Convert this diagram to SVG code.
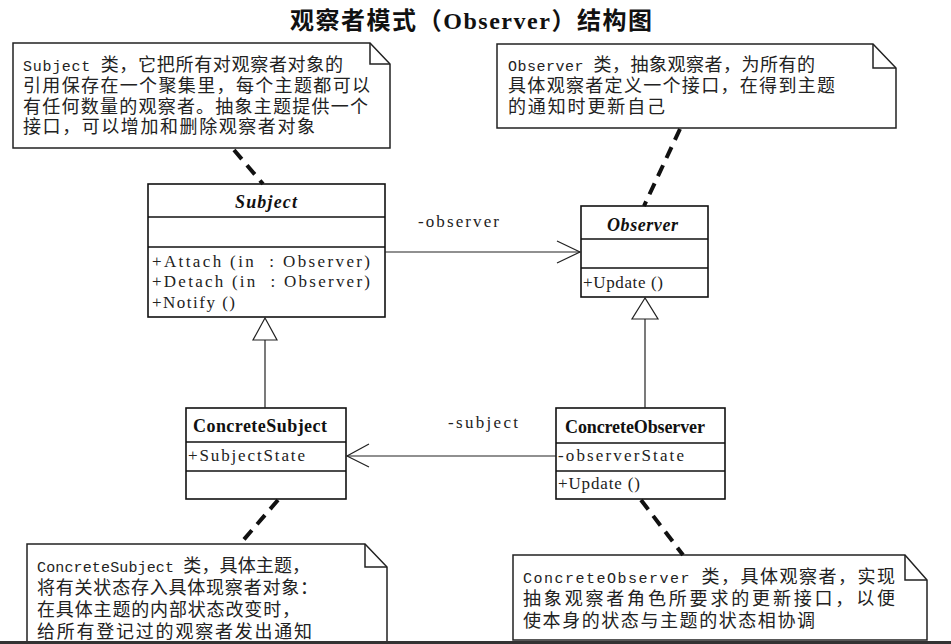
<svg xmlns="http://www.w3.org/2000/svg" width="951" height="644" viewBox="0 0 951 644">
<defs>
<style>
.box{fill:#fff;stroke:#111;stroke-width:1.6}
.note{fill:#fff;stroke:#222;stroke-width:1.5}
.fold{fill:none;stroke:#222;stroke-width:1.5}
.ln{fill:none;stroke:#222;stroke-width:1.2}
.dash{fill:none;stroke:#111;stroke-width:4;stroke-dasharray:12 8}
.nt{font-family:"Liberation Mono","Noto Sans CJK SC",monospace;font-size:18px;fill:#222}
.lat{font-size:15px}
.cn{font-family:"Liberation Serif","Noto Sans CJK SC",serif;font-size:18px;font-weight:bold;fill:#111}
.it{font-style:italic}
.mb{font-family:"Liberation Serif","Noto Sans CJK SC",serif;font-size:17px;fill:#222}
.title{font-family:"Liberation Serif","Noto Sans CJK SC",sans-serif;font-size:24px;font-weight:bold;fill:#111}
</style>
</defs>
<rect x="0" y="0" width="951" height="644" fill="#fff"/>

<text class="title" x="290" y="29" textLength="362">观察者模式（Observer）结构图</text>

<g id="note-subject">
<path class="note" d="M13,43 H370 L390,64 V148 H13 Z"/>
<path class="fold" d="M370,43 V64 H390"/>
<text class="nt" x="23" y="71" textLength="320" xml:space="preserve"><tspan class="lat">Subject </tspan>类，它把所有对观察者对象的</text>
<text class="nt" x="23" y="92" textLength="347">引用保存在一个聚集里，每个主题都可以</text>
<text class="nt" x="23" y="113" textLength="345">有任何数量的观察者。抽象主题提供一个</text>
<text class="nt" x="23" y="133" textLength="292">接口，可以增加和删除观察者对象</text>
</g>

<g id="note-observer">
<path class="note" d="M497,44 H873 L896,68 V128 H497 Z"/>
<path class="fold" d="M873,44 V68 H896"/>
<text class="nt" x="508" y="71" textLength="307" xml:space="preserve"><tspan class="lat">Observer </tspan>类，抽象观察者，为所有的</text>
<text class="nt" x="508" y="92" textLength="327">具体观察者定义一个接口，在得到主题</text>
<text class="nt" x="508" y="113" textLength="157">的通知时更新自己</text>
</g>

<g id="note-concretesubject">
<path class="note" d="M27,544 H365 L387,567 V648 H27 Z"/>
<path class="fold" d="M365,544 V567 H387"/>
<text class="nt" x="37" y="572" textLength="273" xml:space="preserve"><tspan class="lat">ConcreteSubject </tspan>类，具体主题，</text>
<text class="nt" x="37" y="594" textLength="281">将有关状态存入具体现察者对象：</text>
<text class="nt" x="37" y="616" textLength="263">在具体主题的内部状态改变时，</text>
<text class="nt" x="37" y="638" textLength="275">给所有登记过的观察者发出通知</text>
</g>

<g id="note-concreteobserver">
<path class="note" d="M513,555 H905 L927,580 V640 H513 Z"/>
<path class="fold" d="M905,555 V580 H927"/>
<text class="nt" x="523" y="583" textLength="372" xml:space="preserve"><tspan class="lat">ConcreteObserver </tspan>类，具体观察者，实现</text>
<text class="nt" x="523" y="605" textLength="372">抽象观察者角色所要求的更新接口，以便</text>
<text class="nt" x="523" y="627" textLength="292">使本身的状态与主题的状态相协调</text>
</g>

<g id="class-subject">
<rect class="box" x="148" y="184" width="237" height="133"/>
<line class="box" x1="148" y1="217" x2="385" y2="217"/>
<line class="box" x1="148" y1="247" x2="385" y2="247"/>
<text class="cn it" x="235" y="208" textLength="62">Subject</text>
<text class="mb" x="152" y="267" textLength="218" xml:space="preserve">+Attach (in  : Observer)</text>
<text class="mb" x="152" y="287" textLength="218" xml:space="preserve">+Detach (in  : Observer)</text>
<text class="mb" x="152" y="308" textLength="83">+Notify ()</text>
</g>

<g id="class-observer">
<rect class="box" x="581" y="206" width="127" height="91"/>
<line class="box" x1="581" y1="239" x2="708" y2="239"/>
<line class="box" x1="581" y1="268" x2="708" y2="268"/>
<text class="cn it" x="607" y="231" textLength="71">Observer</text>
<text class="mb" x="583" y="288" textLength="80">+Update ()</text>
</g>

<g id="class-concretesubject">
<rect class="box" x="186" y="408" width="160" height="91"/>
<line class="box" x1="186" y1="442" x2="346" y2="442"/>
<line class="box" x1="186" y1="471" x2="346" y2="471"/>
<text class="cn" x="193" y="432" textLength="134">ConcreteSubject</text>
<text class="mb" x="188" y="461" textLength="117">+SubjectState</text>
</g>

<g id="class-concreteobserver">
<rect class="box" x="556" y="408" width="169" height="91"/>
<line class="box" x1="556" y1="443" x2="725" y2="443"/>
<line class="box" x1="556" y1="471" x2="725" y2="471"/>
<text class="cn" x="565" y="433" textLength="140">ConcreteObserver</text>
<text class="mb" x="558" y="461" textLength="126">-observerState</text>
<text class="mb" x="558" y="489" textLength="82">+Update ()</text>
</g>

<g id="connectors">
<line class="ln" x1="385" y1="252" x2="580" y2="252"/>
<polyline class="ln" points="557,241 580,252 557,263"/>
<text class="mb" x="418" y="227" textLength="81">-observer</text>

<line class="ln" x1="556" y1="456" x2="347" y2="456"/>
<polyline class="ln" points="369,444 347,456 369,467"/>
<text class="mb" x="448" y="428" textLength="70">-subject</text>

<polygon class="ln" fill="#fff" points="265,318 253,340 277,340"/>
<line class="ln" x1="265" y1="340" x2="265" y2="408"/>
<polygon class="ln" fill="#fff" points="645,298 632,319 658,319"/>
<line class="ln" x1="645" y1="319" x2="645" y2="408"/>

<line class="dash" x1="234" y1="150" x2="263" y2="184"/>
<line class="dash" x1="680" y1="129" x2="644" y2="206"/>
<line class="dash" x1="278" y1="500" x2="240" y2="544"/>
<line class="dash" x1="641" y1="500" x2="683" y2="555"/>
</g>

<rect x="0" y="641" width="951" height="3" fill="#333"/>
</svg>
